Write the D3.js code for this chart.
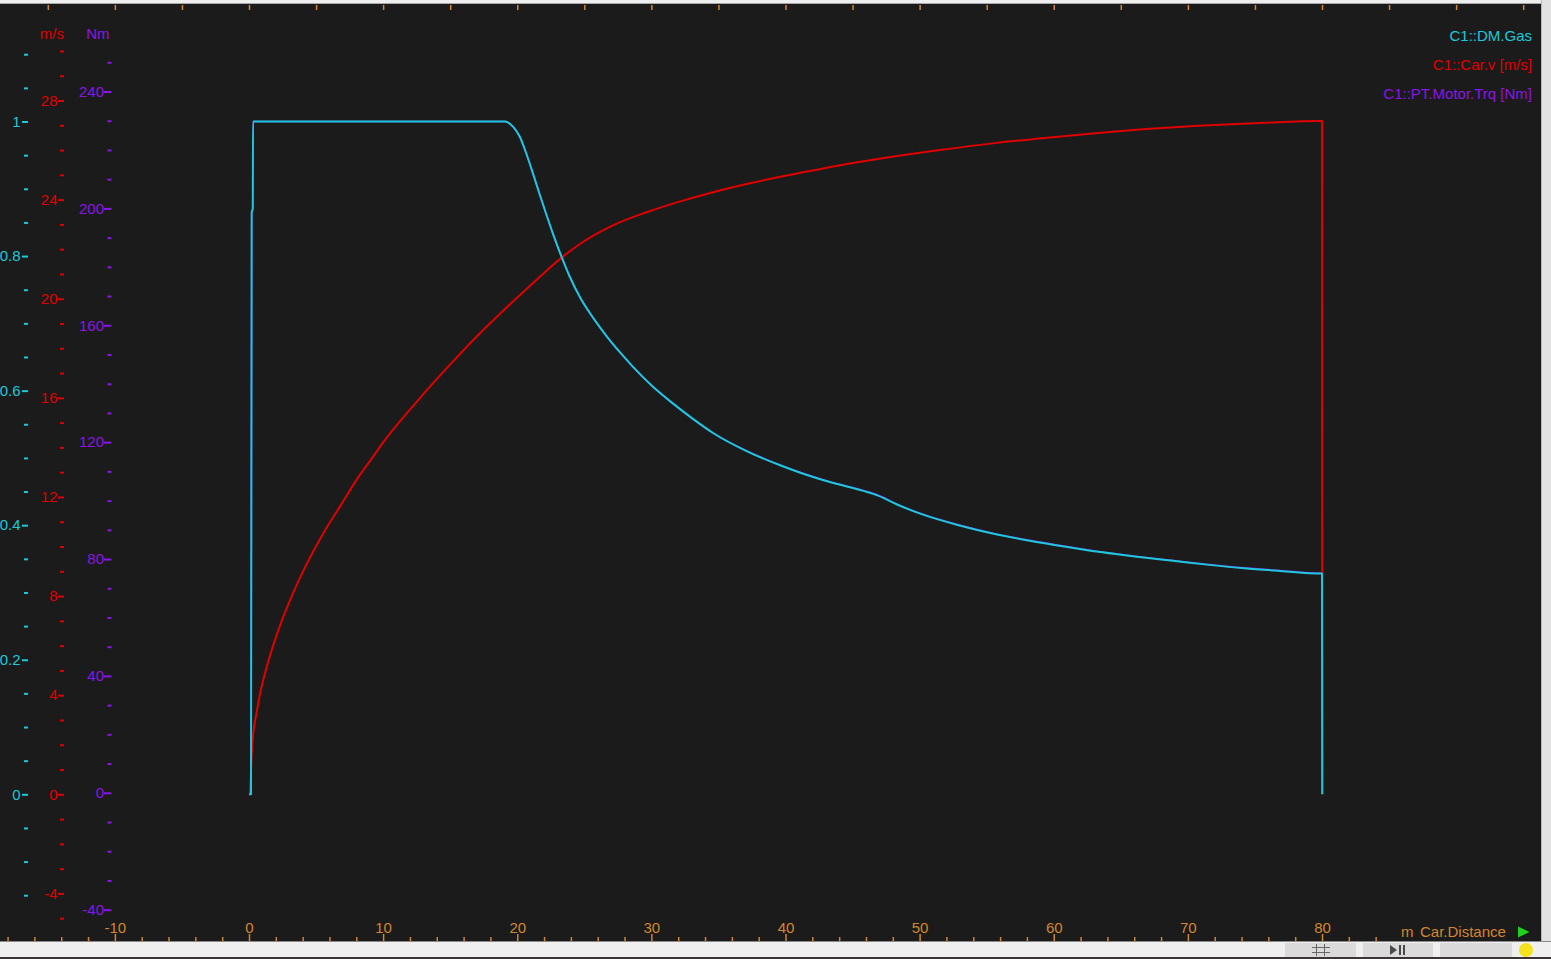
<!DOCTYPE html>
<html>
<head>
<meta charset="utf-8">
<script src="https://cdn.jsdelivr.net/npm/d3@7"></script>
<style>
  html, body { margin: 0; padding: 0; background: #efefef; overflow: hidden; }
  svg { display: block; }
  text { font-family: "Liberation Sans", Arial, sans-serif; }
</style>
</head>
<body>
<svg id="chart" width="1551" height="959"></svg>
<script>
// ---------------- DATA ----------------
// Distance [m] along x
const xLabelTicks = [-10, 0, 10, 20, 30, 40, 50, 60, 70, 80];

// C1::DM.Gas (0..1)
const gasDist = [0, 0.15, 0.2, 0.28, 0.3, 19.1, 19.7, 20.2, 20.7, 21.2, 21.7, 22.2, 22.7, 23.3, 23.9, 24.7, 25.7, 26.7, 27.7, 28.6, 30.1, 31.6, 33.1, 34.6, 37.1, 39.6, 41.1, 43.5, 45.8, 46.9, 48.4, 50.2, 52.9, 55.6, 58.2, 60.9, 63.5, 66.2, 68.9, 71.6, 74.2, 76.9, 79.9, 80.0, 80.02];
const gasVal  = [0, 0, 0.865, 0.87, 1.0, 1.0, 0.992, 0.977, 0.951, 0.921, 0.890, 0.860, 0.831, 0.799, 0.770, 0.738, 0.707, 0.680, 0.656, 0.636, 0.606, 0.581, 0.558, 0.537, 0.510, 0.489, 0.478, 0.463, 0.451, 0.444, 0.430, 0.416, 0.400, 0.387, 0.377, 0.368, 0.360, 0.353, 0.347, 0.341, 0.336, 0.332, 0.328, 0.328, 0];

// C1::Car.v [m/s]
const speedDist = [0, 0.05, 0.1, 0.2, 0.32, 0.57, 0.82, 1.19, 1.81, 2.44, 3.06, 3.68, 4.55, 5.54, 6.79, 8.03, 9.27, 10.0, 12.5, 15.0, 17.2, 18.5, 19.7, 20.95, 22.2, 23.4, 24.7, 27.1, 29.7, 32.1, 34.6, 37.1, 39.6, 41.1, 44.0, 47.6, 51.5, 55.6, 59.5, 63.5, 67.5, 71.6, 75.7, 79.8, 80.0, 80.02];
const speedVal  = [0, 0, 0.4, 1.6, 2.45, 3.3, 4.05, 4.88, 6.02, 7.0, 7.83, 8.6, 9.56, 10.54, 11.62, 12.7, 13.64, 14.2, 15.84, 17.35, 18.6, 19.28, 19.9, 20.52, 21.14, 21.7, 22.22, 22.95, 23.5, 23.92, 24.3, 24.63, 24.92, 25.08, 25.38, 25.7, 26.0, 26.28, 26.5, 26.7, 26.87, 27.0, 27.1, 27.17, 27.17, 0];

// C1::PT.Motor.Trq [Nm]
const trqDist = [0, 0.15, 0.2, 0.28, 0.3, 19.1, 19.7, 20.2, 20.7, 21.2, 21.7, 22.2, 22.7, 23.3, 23.9, 24.7, 25.7, 26.7, 27.7, 28.6, 30.1, 31.6, 33.1, 34.6, 37.1, 39.6, 41.1, 43.5, 45.8, 46.9, 48.4, 50.2, 52.9, 55.6, 58.2, 60.9, 63.5, 66.2, 68.9, 71.6, 74.2, 76.9, 79.9, 80.0, 80.02];
const trqVal  = [0, 0, 198.6, 199.8, 229.7, 229.7, 227.9, 224.4, 218.4, 211.5, 204.4, 197.5, 190.8, 183.4, 176.7, 169.4, 162.2, 156.0, 150.5, 145.9, 139.0, 133.2, 127.9, 123.1, 117.1, 112.2, 109.7, 106.2, 103.5, 101.9, 98.6, 95.4, 91.7, 88.7, 86.4, 84.4, 82.5, 80.9, 79.5, 78.1, 77.0, 76.1, 75.1, 75.1, 0];

// Axis ticks
const gasMajor = [0, 0.2, 0.4, 0.6, 0.8, 1];
const gasMinorRange = [-0.15, 1.1];
const speedMajor = [-4, 0, 4, 8, 12, 16, 20, 24, 28];
const speedMinorRange = [-5, 30];
const trqMajor = [-40, 0, 40, 80, 120, 160, 200, 240];
const trqMinorRange = [-40, 250];

const legendLabels = ["C1::DM.Gas", "C1::Car.v [m/s]", "C1::PT.Motor.Trq [Nm]"];

// ---------------- STYLE ----------------
const COL_GAS = "#1cc8dc";
const COL_V = "#e00000";
const COL_TRQ = "#8c14e6";
const COL_X = "#d4862e";
const BG = "#1b1b1b";

const svg = d3.select("#chart");
const W = 1551, H = 959;
const plotL = 0, plotR = 1541, plotT = 4, plotB = 941;

// chrome
svg.append("rect").attr("x", 0).attr("y", 0).attr("width", W).attr("height", H).attr("fill", "#efefef");
svg.append("rect").attr("x", plotL).attr("y", plotT).attr("width", plotR - plotL).attr("height", plotB - plotT).attr("fill", BG);
svg.append("rect").attr("x", plotR).attr("y", 0).attr("width", W - plotR).attr("height", plotB).attr("fill", "#e2e2e2");
svg.append("line").attr("x1", plotR + 0.5).attr("x2", plotR + 0.5).attr("y1", 0).attr("y2", plotB).attr("stroke", "#b8b8b8");
svg.append("line").attr("x1", 0).attr("x2", plotR).attr("y1", plotT - 0.5).attr("y2", plotT - 0.5).attr("stroke", "#a8a8a8");
svg.append("line").attr("x1", 0).attr("x2", W).attr("y1", plotB + 0.5).attr("y2", plotB + 0.5).attr("stroke", "#8a8a8a");
svg.append("rect").attr("x", 0).attr("y", 957).attr("width", W).attr("height", 2).attr("fill", "#3a3434");

// bottom buttons
[[1285, 71], [1363, 70], [1440, 72]].forEach(([x, w]) => {
  svg.append("rect").attr("x", x).attr("y", 943).attr("width", w).attr("height", 14).attr("fill", "#dadada");
});
const icon = svg.append("g").attr("stroke", "#666").attr("stroke-width", 1);
[1316.5, 1324.5].forEach(x => icon.append("line").attr("x1", x).attr("x2", x).attr("y1", 944).attr("y2", 956));
[947.5, 952.5].forEach(y => icon.append("line").attr("x1", 1312).attr("x2", 1330).attr("y1", y).attr("y2", y));
svg.append("path").attr("d", "M1390,945 L1390,955 L1397,950 Z").attr("fill", "#4a4a4a");
svg.append("rect").attr("x", 1399).attr("y", 945).attr("width", 2).attr("height", 10).attr("fill", "#4a4a4a");
svg.append("rect").attr("x", 1403).attr("y", 945).attr("width", 2).attr("height", 10).attr("fill", "#4a4a4a");
svg.append("circle").attr("cx", 1526).attr("cy", 950).attr("r", 7).attr("fill", "#f3e21c");

// ---------------- SCALES ----------------
const x = d3.scaleLinear().domain([0, 80]).range([249, 1322]);
const yGas = d3.scaleLinear().domain([0, 1]).range([794.3, 121.5]);
const yV = d3.scaleLinear().domain([0, 28]).range([794.3, 100.5]);
const yT = d3.scaleLinear().domain([0, 240]).range([792.8, 91.5]);

function styleAxis(g, color) {
  g.select(".domain").remove();
  g.selectAll(".tick line").attr("stroke", color).attr("stroke-width", 2);
  g.selectAll(".tick text").attr("fill", color).attr("font-size", "15px")
    .attr("font-family", '"Liberation Sans", Arial, sans-serif');
}
const fmt = d => String(d);

function rangeStep(a, b, s) {
  const out = [];
  const n = Math.round((b - a) / s);
  for (let i = 0; i <= n; i++) out.push(+(a + i * s).toFixed(4));
  return out;
}

// Gas axis
const gasMinor = rangeStep(gasMinorRange[0], gasMinorRange[1], 0.05).filter(v => !gasMajor.some(m => Math.abs(m - v) < 1e-6));
svg.append("g").attr("transform", "translate(28,0)")
  .call(d3.axisLeft(yGas).tickValues(gasMinor).tickSize(4).tickFormat(""))
  .call(g => styleAxis(g, COL_GAS));
svg.append("g").attr("transform", "translate(28,0)")
  .call(d3.axisLeft(yGas).tickValues(gasMajor).tickSize(6).tickPadding(1.5).tickFormat(fmt))
  .call(g => styleAxis(g, COL_GAS));

// Speed axis
const speedMinor = rangeStep(speedMinorRange[0], speedMinorRange[1], 1).filter(v => !speedMajor.includes(v));
svg.append("g").attr("transform", "translate(64,0)")
  .call(d3.axisLeft(yV).tickValues(speedMinor).tickSize(4).tickFormat(""))
  .call(g => styleAxis(g, COL_V));
svg.append("g").attr("transform", "translate(64,0)")
  .call(d3.axisLeft(yV).tickValues(speedMajor).tickSize(6).tickPadding(0.5).tickFormat(fmt))
  .call(g => styleAxis(g, COL_V));

// Torque axis
const trqMinor = rangeStep(trqMinorRange[0], trqMinorRange[1], 10).filter(v => !trqMajor.includes(v));
svg.append("g").attr("transform", "translate(111.5,0)")
  .call(d3.axisLeft(yT).tickValues(trqMinor).tickSize(4).tickFormat(""))
  .call(g => styleAxis(g, COL_TRQ));
svg.append("g").attr("transform", "translate(111.5,0)")
  .call(d3.axisLeft(yT).tickValues(trqMajor).tickSize(7.5).tickPadding(0).tickFormat(fmt))
  .call(g => styleAxis(g, COL_TRQ));

// unit labels
svg.append("text").attr("x", 64).attr("y", 39).attr("text-anchor", "end").attr("fill", COL_V).attr("font-size", "15px").text("m/s");
svg.append("text").attr("x", 109.5).attr("y", 39).attr("text-anchor", "end").attr("fill", COL_TRQ).attr("font-size", "15px").text("Nm");

// X axis bottom
const xMinor = rangeStep(-18, 84, 2).filter(v => v % 10 !== 0);
svg.append("g").attr("transform", `translate(0,${plotB})`)
  .call(d3.axisTop(x).tickValues(xMinor).tickSize(4).tickFormat(""))
  .call(g => { styleAxis(g, COL_X); g.selectAll(".tick line").attr("stroke-width", 1.5); });
svg.append("g").attr("transform", `translate(0,${plotB})`)
  .call(d3.axisTop(x).tickValues(xLabelTicks).tickSize(7).tickPadding(1).tickFormat(fmt))
  .call(g => { styleAxis(g, COL_X); g.selectAll(".tick line").attr("stroke-width", 1.5); });

// X axis top ticks
svg.append("g").attr("transform", `translate(0,${plotT + 1})`)
  .call(d3.axisBottom(x).tickValues(rangeStep(-15, 95, 5)).tickSize(5).tickFormat(""))
  .call(g => { styleAxis(g, COL_X); g.selectAll(".tick line").attr("stroke-width", 1.5); });

// x axis title
svg.append("text").attr("x", 1401).attr("y", 937).attr("fill", COL_X).attr("font-size", "15px").text("m");
svg.append("text").attr("x", 1420).attr("y", 937).attr("fill", COL_X).attr("font-size", "15px").text("Car.Distance");
svg.append("path").attr("d", "M1518,926.5 L1518,937.5 L1529.5,932 Z").attr("fill", "#1fd01f");

// legend
const legColors = [COL_GAS, COL_V, COL_TRQ];
legendLabels.forEach((t, i) => {
  svg.append("text").attr("x", 1532).attr("y", 41 + i * 29).attr("text-anchor", "end")
    .attr("fill", legColors[i]).attr("font-size", "15px").text(t);
});

// ---------------- LINES ----------------
svg.append("clipPath").attr("id", "clip").append("rect")
  .attr("x", plotL).attr("y", plotT).attr("width", plotR - plotL).attr("height", plotB - plotT);
const lines = svg.append("g").attr("clip-path", "url(#clip)");

const trqData = trqDist.map((d, i) => [d, trqVal[i]]);
const speedData = speedDist.map((d, i) => [d, speedVal[i]]);
const gasData = gasDist.map((d, i) => [d, gasVal[i]]);

const curve = d3.curveMonotoneX;
lines.append("path").datum(trqData)
  .attr("d", d3.line().curve(curve).x(d => x(d[0])).y(d => yT(d[1])))
  .attr("fill", "none").attr("stroke", COL_TRQ).attr("stroke-width", 1.5).attr("stroke-linejoin", "round");
lines.append("path").datum(speedData)
  .attr("d", d3.line().curve(curve).x(d => x(d[0])).y(d => yV(d[1])))
  .attr("fill", "none").attr("stroke", COL_V).attr("stroke-width", 2).attr("stroke-linejoin", "round");
lines.append("path").datum(gasData)
  .attr("d", d3.line().curve(curve).x(d => x(d[0])).y(d => yGas(d[1])))
  .attr("fill", "none").attr("stroke", COL_GAS).attr("stroke-width", 2).attr("stroke-linejoin", "round");
</script>
</body>
</html>
